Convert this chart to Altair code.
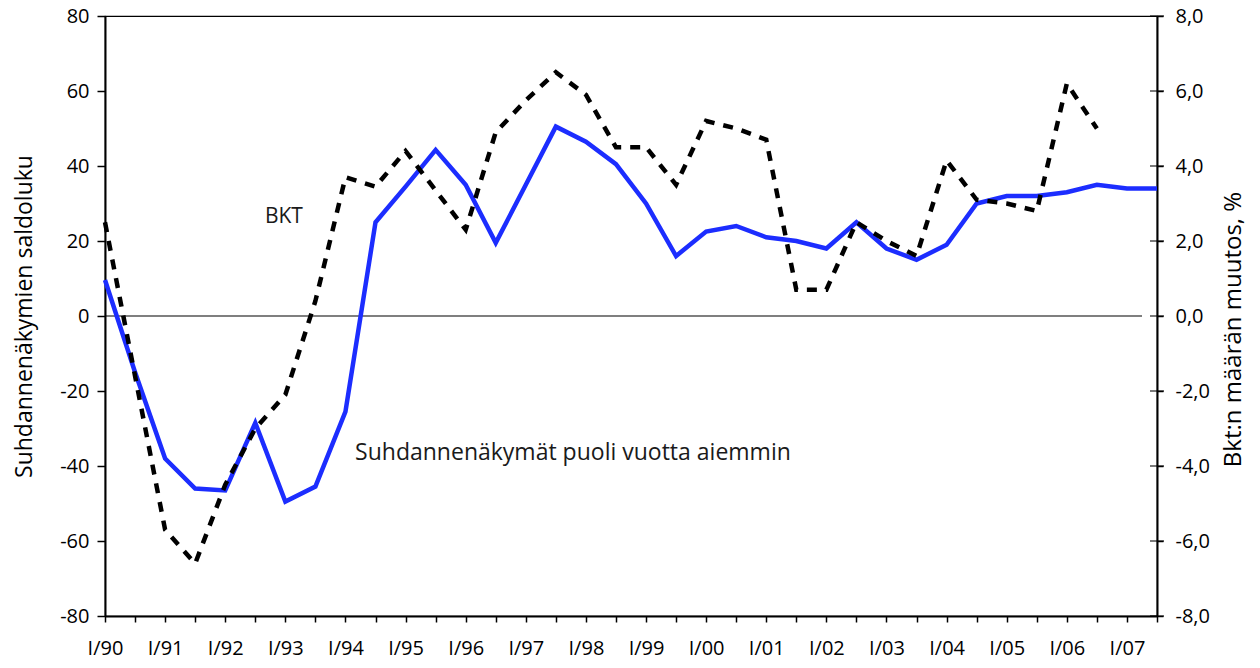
import altair as alt
import pandas as pd

# Half-year periods I/90, III/90, I/91, ... III/07
half_year = list(range(36))
x_labels = ["I/90", "I/91", "I/92", "I/93", "I/94", "I/95", "I/96", "I/97", "I/98",
            "I/99", "I/00", "I/01", "I/02", "I/03", "I/04", "I/05", "I/06", "I/07"]

# Suhdannenäkymät puoli vuotta aiemmin (saldoluku, left axis)
suhdanne = [9.6, -15, -38, -46, -46.5, -28.5, -49.5, -45.5, -25.5, 25, 34.5, 44.3,
            35, 19.5, 35, 50.5, 46.5, 40.5, 30, 16, 22.5, 24, 21, 20, 18, 25,
            18, 15, 19, 30, 32, 32, 33, 35, 34, 34]

# BKT:n määrän muutos, % (right axis)
bkt = [2.5, -1.6, -5.7, -6.6, -4.5, -3.0, -2.1, 0.4, 3.7, 3.45, 4.4, 3.35,
       2.3, 4.9, 5.75, 6.5, 5.9, 4.5, 4.5, 3.5, 5.2, 5.0, 4.7, 0.7, 0.7, 2.5,
       2.0, 1.6, 4.15, 3.1, 3.0, 2.8, 6.2, 5.0, None, None]

left_ticks = [-80, -60, -40, -20, 0, 20, 40, 60, 80]
right_ticks = [-8, -6, -4, -2, 0, 2, 4, 6, 8]

df = pd.DataFrame({"t": half_year, "suhdanne": suhdanne, "bkt": bkt})
one_row = pd.DataFrame({"k": [0]})
rticks_df = pd.DataFrame({"v": right_ticks})

FONT = "Open Sans"
BLUE = "#1c2dff"

label_expr = "datum.value % 2 == 0 ? " + str(x_labels) + "[datum.value / 2] : ''"

x_scale = alt.Scale(domain=[0, 35], nice=False, zero=False)
x_axis = alt.Axis(values=half_year, labelExpr=label_expr, title=None, grid=False,
                  tickSize=6, tickWidth=1.5, tickColor="black", domainColor="black",
                  domainWidth=2, labelFontSize=20, labelPadding=16, labelColor="black",
                  labelFlush=False, labelOverlap=False)
x_enc = alt.X("t:Q", scale=x_scale, axis=x_axis)

left_axis = alt.Axis(values=left_ticks, labelExpr="datum.value + ''", orient="left",
                     title="Suhdannenäkymien saldoluku", titleFontSize=23,
                     titleFontWeight="normal", titleColor="black", titlePadding=23,
                     grid=False, tickSize=8, tickWidth=1.5, tickColor="black",
                     domainColor="black", domainWidth=2, labelFontSize=20,
                     labelPadding=8, labelColor="black")
left_scale = alt.Scale(domain=[-80, 80], nice=False)

right_axis = alt.Axis(values=right_ticks, labelExpr="datum.value + ',0'", orient="right",
                      title="Bkt:n määrän muutos, %", titleFontSize=24, titleAngle=270,
                      titleFontWeight="normal", titleColor="black", titlePadding=36,
                      titleY=313, grid=False, tickSize=6, tickWidth=1.5, tickColor="black",
                      domainColor="black", domainWidth=2, labelFontSize=20,
                      labelPadding=12, labelColor="black")
right_scale = alt.Scale(domain=[-8, 8], nice=False)

base = alt.Chart(df)
note = alt.Chart(one_row)

zero_rule = note.mark_rule(color="black", strokeWidth=1.2).encode(
    x=alt.value(0), x2=alt.value(1037),
    y=alt.Y(datum=0, scale=left_scale, axis=left_axis),
)

blue_line = base.mark_line(color=BLUE, strokeWidth=4.5, strokeJoin="miter").encode(
    x=x_enc,
    y=alt.Y("suhdanne:Q", scale=left_scale, axis=left_axis),
)

txt_bkt = note.mark_text(text="BKT", font=FONT, fontSize=21, color="#1a1a1a",
                         align="left", baseline="middle").encode(
    x=alt.X(datum=5.32, scale=x_scale, axis=x_axis),
    y=alt.Y(datum=26.4, scale=left_scale, axis=left_axis),
)

txt_suh = note.mark_text(text="Suhdannenäkymät puoli vuotta aiemmin", font=FONT,
                         fontSize=23, color="#1a1a1a", align="left",
                         baseline="middle").encode(
    x=alt.X(datum=8.32, scale=x_scale, axis=x_axis),
    y=alt.Y(datum=-36.5, scale=left_scale, axis=left_axis),
)

left_layer = alt.layer(zero_rule, blue_line, txt_bkt, txt_suh)

bkt_line = base.mark_line(color="black", strokeWidth=4.5, strokeDash=[10, 9],
                          strokeJoin="miter").encode(
    x=x_enc,
    y=alt.Y("bkt:Q", scale=right_scale, axis=right_axis),
)

# inner half of the right-axis ticks (the reference's ticks cross the axis line)
right_inner_ticks = alt.Chart(rticks_df).mark_tick(
    orient="horizontal", size=14, thickness=1.5, color="black"
).encode(
    x=alt.X(datum=35, scale=x_scale, axis=x_axis),
    y=alt.Y("v:Q", scale=right_scale, axis=right_axis),
)

right_layer = alt.layer(bkt_line, right_inner_ticks)

chart = alt.layer(left_layer, right_layer).resolve_scale(y="independent").properties(
    width=1052, height=600,
    autosize=alt.AutoSizeParams(type="none"),
    padding={"left": 97, "top": 8, "right": 95, "bottom": 44},
).configure(font=FONT).configure_view(stroke="black", strokeWidth=1.2)

chart.save("out.html", embed_options={"renderer": "svg", "actions": False})
